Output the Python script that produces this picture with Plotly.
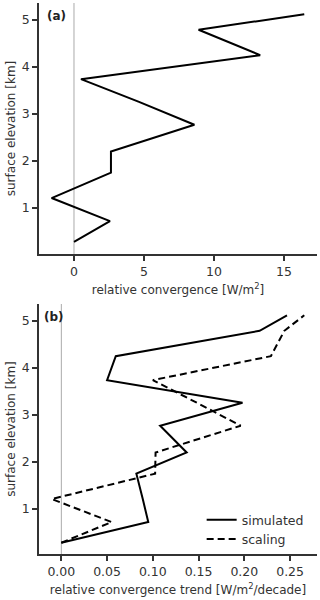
import plotly.graph_objects as go
from plotly.subplots import make_subplots

# surface elevation levels [km]
elevation = [0.28, 0.72, 1.21, 1.75, 2.20, 2.77, 3.26, 3.74, 4.25, 4.79, 5.12]

# (a) relative convergence [W/m2]
convergence = [0.0, 2.57, -1.6, 2.64, 2.64, 8.6, 4.6, 0.5, 13.3, 8.9, 16.45]

# (b) relative convergence trend [W/m2/decade]
trend_simulated = [0.0, 0.095, 0.089, 0.082, 0.137, 0.108, 0.198, 0.050, 0.0595, 0.2167, 0.2466]
trend_scaling = [0.0, 0.055, -0.0105, 0.1025, 0.103, 0.196, 0.148, 0.100, 0.229, 0.2437, 0.2655]

font = "DejaVu Sans"
axis_col = "#333333"

fig = make_subplots(rows=2, cols=1, vertical_spacing=0.09)

fig.add_trace(go.Scatter(x=convergence, y=elevation, mode="lines",
                         line=dict(color="black", width=2), showlegend=False), row=1, col=1)
fig.add_trace(go.Scatter(x=trend_simulated, y=elevation, mode="lines", name="simulated",
                         line=dict(color="black", width=2)), row=2, col=1)
fig.add_trace(go.Scatter(x=trend_scaling, y=elevation, mode="lines", name="scaling",
                         line=dict(color="black", width=2, dash="7px,4px")), row=2, col=1)

axis_style = dict(showline=True, linecolor=axis_col, linewidth=1.5, ticks="outside",
                  tickcolor=axis_col, ticklen=5, tickwidth=1.5, showgrid=False, zeroline=False,
                  tickfont=dict(size=12.5, color=axis_col, family=font), mirror=False,
                  automargin=False)

fig.update_xaxes(**axis_style)
fig.update_yaxes(**axis_style)

title_font = dict(size=12, color=axis_col, family=font)
fig.update_xaxes(range=[-2.5, 17.36], tickvals=[0, 5, 10, 15],
                 title=dict(text="relative convergence [W/m<sup>2</sup>]", standoff=8,
                            font=title_font), row=1, col=1)
fig.update_xaxes(range=[-0.0244, 0.2794], tickvals=[0, 0.05, 0.1, 0.15, 0.2, 0.25], tickformat=".2f",
                 title=dict(text="relative convergence trend [W/m<sup>2</sup>/decade]", standoff=8,
                            font=title_font), row=2, col=1)
for r, lo in [(1, 0.02), (2, 0.04)]:
    fig.update_yaxes(range=[lo, 5.36], tickvals=[1, 2, 3, 4, 5],
                     title=dict(text="surface elevation [km]", standoff=4, font=title_font),
                     row=r, col=1)

fig.update_layout(
    xaxis=dict(domain=[0, 1]), yaxis=dict(domain=[0.5445, 1.0]),
    xaxis2=dict(domain=[0, 1]), yaxis2=dict(domain=[0.0, 0.4537]),
)

# zero reference lines
for r in (1, 2):
    fig.add_vline(x=0, line=dict(color="#aaaaaa", width=1), layer="below", row=r, col=1)

fig.add_annotation(text="<b>(a)</b>", xref="x domain", yref="y domain", x=0.02, y=0.985,
                   xanchor="left", yanchor="top", showarrow=False,
                   font=dict(size=12, color="#222", family=font))
fig.add_annotation(text="<b>(b)</b>", xref="x2 domain", yref="y2 domain", x=0.01, y=0.985,
                   xanchor="left", yanchor="top", showarrow=False,
                   font=dict(size=12, color="#222", family=font))

fig.update_layout(
    width=320, height=600,
    margin=dict(l=39, r=3, t=3, b=46),
    paper_bgcolor="white", plot_bgcolor="white",
    font=dict(family=font, size=12, color=axis_col),
    legend=dict(x=0.97, y=0.0, xanchor="right", yanchor="bottom",
                bgcolor="rgba(255,255,255,0)", font=dict(size=12.5, color=axis_col, family=font),
                tracegroupgap=0),
)

# drop the browser's default body margin so the figure sits at the page corner
fig.write_html("out.html", config={"displayModeBar": False},
               post_script="document.body.style.margin='0';")
